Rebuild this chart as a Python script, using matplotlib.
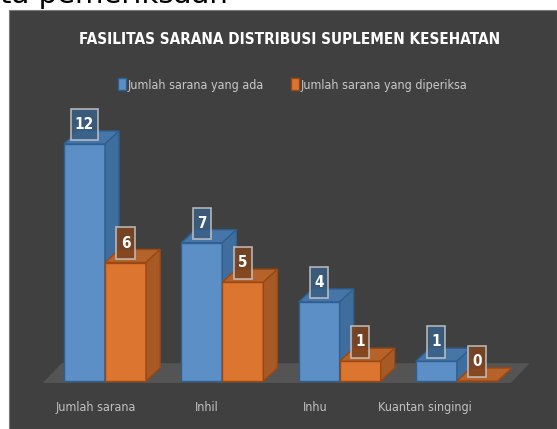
import matplotlib
matplotlib.use("Agg")
import matplotlib.pyplot as plt
from matplotlib.patches import Rectangle, Polygon
from matplotlib.lines import Line2D

plt.rcParams['font.family'] = ['DejaVu Sans']
plt.rcParams['font.stretch'] = 'condensed'

categories = ["Jumlah sarana", "Inhil", "Inhu", "Kuantan singingi"]
series_names = ["Jumlah sarana yang ada", "Jumlah sarana yang diperiksa"]
sarana_ada = [12, 7, 4, 1]
sarana_diperiksa = [6, 5, 1, 0]

title = "FASILITAS SARANA DISTRIBUSI SUPLEMEN KESEHATAN"

# styling
bg = "#404040"
floor_col = "#545454"
blue = dict(front="#5b8fc6", side="#3f6e9e", top="#4676a8", edge="#2f5f8f", box="#3a5f85")
orange = dict(front="#dc7530", side="#a85a26", top="#b5632a", edge="#9a4812", box="#7e4420")
bar_w = 0.35
dx, dy = 0.12, 0.66  # 3d depth offset (x units, value units)
label_shift = [-0.077, -0.136, -0.205, -0.273]

fig = plt.figure(figsize=(5.57, 4.29), dpi=100)
fig.patch.set_facecolor("white")
fig.add_artist(Rectangle((9 / 557, 0), 548 / 557, 419 / 429, transform=fig.transFigure,
                         facecolor=bg, edgecolor="#7a7a7a", linewidth=0.8, zorder=0))
# cut-off slide text above the chart
fig.text(0.0, 1 - 3 / 429, "ta pemeriksaan", fontsize=21, color="black",
         fontstretch="normal", va="baseline", ha="left")

ax = fig.add_axes([0, 0, 1, 1])
ax.set_xlim(-105 / 117.3, 452 / 117.3)
ax.set_ylim(-48 / 19.75, 381 / 19.75)
ax.axis("off")
ax.patch.set_alpha(0)

# floor
n = len(categories)
fx0, fx1, fy = -0.53, n - 1 + 0.46, -0.1
ax.add_patch(Polygon([(fx0, fy), (fx1, fy), (fx1 + 0.16, fy + 1.0), (fx0 + 0.16, fy + 1.0)],
                     closed=True, facecolor=floor_col, edgecolor="none", zorder=1))


def bar3d(x0, h, st, z):
    ax.bar(x0, h, width=bar_w, align="edge", color=st["front"], edgecolor=st["edge"],
           linewidth=1.0, zorder=z)
    x1 = x0 + bar_w
    ax.add_patch(Polygon([(x0, h), (x1, h), (x1 + dx, h + dy), (x0 + dx, h + dy)],
                         closed=True, facecolor=st["top"], edgecolor=st["edge"],
                         linewidth=1.0, zorder=z))
    ax.add_patch(Polygon([(x1, 0), (x1 + dx, dy), (x1 + dx, h + dy), (x1, h)],
                         closed=True, facecolor=st["side"], edgecolor=st["edge"],
                         linewidth=1.0, zorder=z))


def value_box(xc, h, st, z):
    # blank lines around the number make the label box tall and narrow
    ax.annotate("\n%d\n" % h, (xc, h), xytext=(0, 14), textcoords="offset points",
                ha="center", va="center", ma="center", linespacing=0.08,
                fontsize=11, fontweight="bold", color="white",
                bbox=dict(boxstyle="square,pad=0.28", facecolor=st["box"], alpha=0.85,
                          edgecolor="#c8c8c8", linewidth=1.2), zorder=z)


for i in range(n):
    z = 3 + i * 4
    bar3d(i - bar_w, sarana_ada[i], blue, z)
    bar3d(i, sarana_diperiksa[i], orange, z + 1)
    value_box(i - bar_w / 2, sarana_ada[i], blue, z + 2)
    value_box(i + bar_w / 2, sarana_diperiksa[i], orange, z + 3)
    ax.text(i + label_shift[i], -1.32, categories[i], ha="center", va="center",
            fontsize=9, color="#c0c0c0")

fig.text(290 / 557, 1 - 40 / 429, title, ha="center", va="center",
         fontsize=11, fontweight="bold", color="white")

tall_square = [(-0.36, -0.5), (0.36, -0.5), (0.36, 0.5), (-0.36, 0.5), (-0.36, -0.5)]
handles = [Line2D([], [], marker=tall_square, linestyle="none", markersize=8,
                  markerfacecolor=blue["front"], markeredgecolor=blue["edge"]),
           Line2D([], [], marker=tall_square, linestyle="none", markersize=8,
                  markerfacecolor=orange["front"], markeredgecolor=orange["edge"])]
leg = fig.legend(handles, series_names, loc="center", bbox_to_anchor=(293 / 557, 1 - 85 / 429),
                 ncol=2, frameon=False, fontsize=9, handlelength=0.5, handletextpad=0.2,
                 columnspacing=2.3, labelcolor="#c8c8c8")

fig.savefig("out.png", dpi=100, facecolor=fig.get_facecolor())
